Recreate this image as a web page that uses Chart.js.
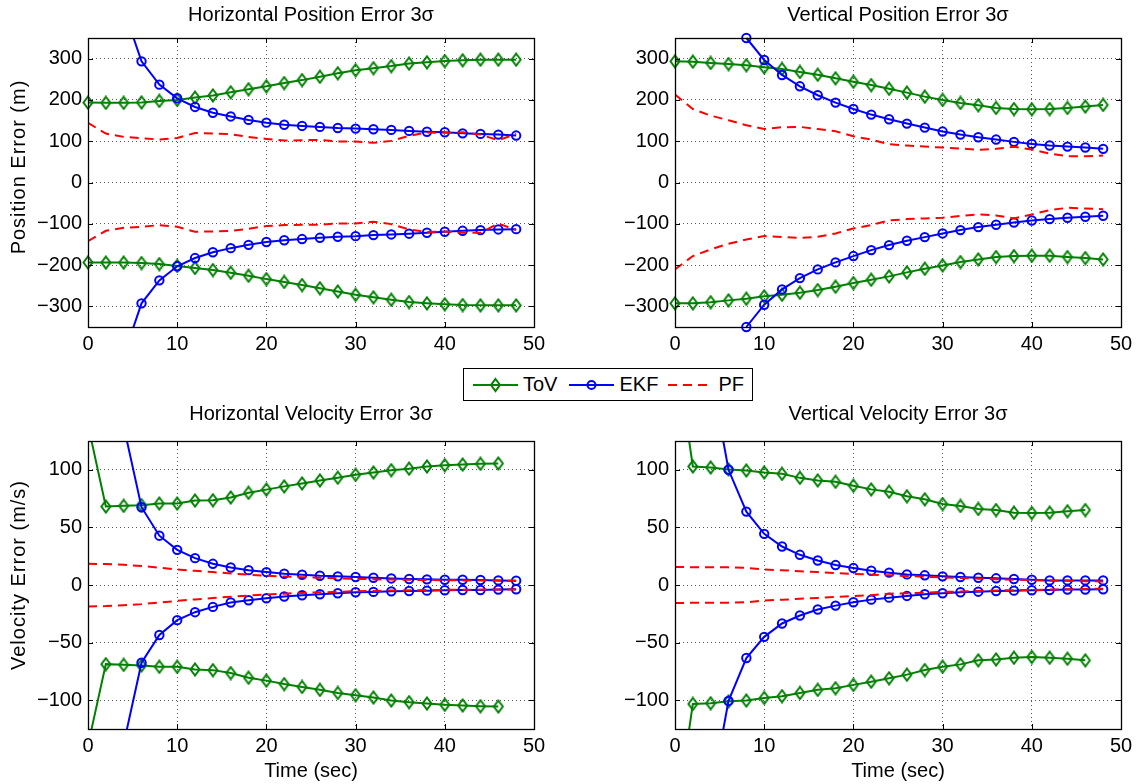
<!DOCTYPE html>
<html>
<head>
<meta charset="utf-8">
<title>Position and Velocity Error 3 sigma</title>
<script src="https://cdn.jsdelivr.net/npm/chart.js@4.4.0/dist/chart.umd.min.js"></script>
<style>
    body { margin: 0; width: 1142px; height: 784px; background: #fff; overflow: hidden; position: relative;
           font-family: "Liberation Sans", Arial, Helvetica, sans-serif; color: #000; }
    .plot { position: absolute; }
    .lbl { position: absolute; font-size: 20px; white-space: nowrap; transform: translate(-50%, -50%); }
    .ylbl { transform: translate(-50%, -50%) rotate(-90deg); letter-spacing: 1px; }
    #legend { position: absolute; left: 463px; top: 368px; width: 288px; height: 31px; border: 1px solid #000;
              display: flex; align-items: center; font-size: 20px; background: #fff; }
    #legend svg { display: block; }
    #legend .item { display: flex; align-items: center; }
    #legend .item span { margin-left: 5px; }
</style>
</head>
<body>

<div class="plot" style="left:0px; top:0px;"><canvas id="chartHPos" width="560" height="365"></canvas></div>
<div class="plot" style="left:587px; top:0px;"><canvas id="chartVPos" width="555" height="365"></canvas></div>
<div class="plot" style="left:0px; top:403px;"><canvas id="chartHVel" width="560" height="364"></canvas></div>
<div class="plot" style="left:587px; top:403px;"><canvas id="chartVVel" width="555" height="364"></canvas></div>

<div class="lbl" style="left:311px; top:14px;">Horizontal Position Error 3σ</div>
<div class="lbl" style="left:898px; top:14px;">Vertical Position Error 3σ</div>
<div class="lbl" style="left:311px; top:413px;">Horizontal Velocity Error 3σ</div>
<div class="lbl" style="left:898px; top:413px;">Vertical Velocity Error 3σ</div>
<div class="lbl ylbl" style="left:18px; top:167px;">Position Error (m)</div>
<div class="lbl ylbl" style="left:18px; top:575px;">Velocity Error (m/s)</div>
<div class="lbl" style="left:311px; top:770px;">Time (sec)</div>
<div class="lbl" style="left:898px; top:770px;">Time (sec)</div>

<div id="legend">
    <div class="item" style="margin-left:9px;">
        <svg width="45" height="16"><line x1="0" y1="8" x2="45" y2="8" stroke="#008000" stroke-width="2"/><path d="M22.5 2 L27 8 L22.5 14 L18 8 Z" fill="none" stroke="#008000" stroke-width="2"/></svg>
        <span>ToV</span>
    </div>
    <div class="item" style="margin-left:12px;">
        <svg width="45" height="16"><line x1="0" y1="8" x2="45" y2="8" stroke="#0000ff" stroke-width="2"/><circle cx="22.5" cy="8" r="4" fill="none" stroke="#0000ff" stroke-width="2"/></svg>
        <span>EKF</span>
    </div>
    <div class="item" style="margin-left:10px;">
        <svg width="45" height="16"><line x1="0" y1="8" x2="45" y2="8" stroke="#ff0000" stroke-width="2" stroke-dasharray="9,6"/></svg>
        <span>PF</span>
    </div>
</div>

<script>
/* ----------------------------------------------------------------------------
                                     DATA
---------------------------------------------------------------------------- */

// Axes -----------------------------------------------------------------------
var time = [0, 2, 4, 6, 8, 10, 12, 14, 16, 18, 20, 22, 24, 26, 28, 30, 32, 34, 36, 38, 40, 42, 44, 46, 48];
var xTicks = [0, 10, 20, 30, 40, 50];
var posTicks = [-300, -200, -100, 0, 100, 200, 300];
var velTicks = [-100, -50, 0, 50, 100];

// Horizontal position error (m) ----------------------------------------------
var tovHPosUp = [193.5, 193, 193, 194, 197.6, 200, 205.6, 211, 218.5, 226, 233, 241, 248, 256, 264.5, 272, 277, 282, 288, 291, 294, 296, 297.6, 297.6, 297.6];
var tovHPosLo = [-193.5, -194, -194, -195, -197.6, -202, -207, -212, -218.5, -226, -234, -241, -248.4, -256, -264, -272, -278.2, -284, -289.5, -292.7, -295, -296.8, -297.6, -297.6, -297.6];
var ekfHPosUp = [null, null, 420, 293.5, 237, 204, 183, 169, 160, 151.6, 145, 140, 137, 134.7, 132, 130.6, 129, 127.4, 125, 123, 121.8, 119, 117.7, 116, 113.7];
var ekfHPosLo = [null, null, -420, -292.7, -237, -203, -183, -169, -159, -151, -144, -140, -137, -134, -131.5, -130, -127.4, -125.8, -124, -121.8, -119.4, -117, -115.3, -113.7, -113];
var pfHPosUp = [144.4, 118.5, 110.5, 107.3, 104, 108, 120, 118.5, 117, 110.5, 105.6, 101.6, 102.4, 103.2, 99.2, 99.2, 96, 100.8, 113, 121, 120.2, 121.8, 116, 102.4, 117.7];
var pfHPosLo = [-142, -117, -109.7, -107.3, -103.2, -107.3, -119.4, -118.5, -117, -112, -105.6, -103.2, -102.4, -102.4, -99.2, -99.2, -95.2, -100.8, -113.7, -120, -118.5, -121.8, -121.8, -99.2, -115.3];

// Vertical position error (m) ------------------------------------------------
var tovVPosUp = [293.5, 292.7, 289.5, 287, 284, 279, 275, 267.7, 261, 252.4, 244, 236, 227, 217.7, 208, 200, 192.7, 187, 180.6, 178, 177.4, 178, 180.6, 184, 188];
var tovVPosLo = [-292.7, -292.7, -290, -285.5, -281.5, -275.8, -271.8, -267, -260.5, -252.4, -243.5, -235.5, -227.4, -217.7, -208.9, -200.8, -192.7, -186.3, -180.6, -178.2, -177.4, -177.4, -180.6, -183, -186.3];
var ekfVPosUp = [null, null, null, null, 350, 296.8, 260.5, 233, 211.3, 193.5, 178, 164.5, 153.2, 142.7, 133, 123.4, 116, 109.7, 104, 98.4, 93.5, 89.5, 87, 84.7, 81.5];
var ekfVPosLo = [null, null, null, null, -350, -296, -258.9, -231.5, -210.5, -193.5, -178.2, -163.7, -151.6, -141, -132.3, -123.4, -115.3, -108, -102.4, -96.8, -92, -88.7, -85.5, -83, -80.6];
var pfVPosUp = [213, 178, 162, 150.8, 138.7, 129.8, 133.9, 134.7, 129.8, 124.2, 112, 104, 92.7, 89.5, 87, 84.7, 82.3, 79, 81.5, 86.3, 79.8, 70, 63.7, 63.7, 65.3];
var pfVPosLo = [-210.5, -178.2, -162, -148.4, -138, -129.8, -132.3, -133.9, -131.5, -123.4, -111.3, -103.2, -92, -88.7, -87, -85.5, -80.6, -77.4, -79.8, -87, -77.4, -67, -61.3, -63, -64.5];

// Horizontal velocity error (m/s) --------------------------------------------
var tovHVelUp = [139, 68.1, 68.7, 69.3, 70.7, 70.7, 73.3, 73.6, 76, 80, 82.8, 85.6, 88.2, 90.8, 93.1, 95.7, 97.7, 99.7, 101, 102.9, 104, 104.6, 105.2, 105.5, null];
var tovHVelLo = [-139, -68.7, -69.3, -69.8, -71, -71, -73.3, -73.9, -76.4, -80.5, -83, -86, -88.5, -91, -93.7, -95.7, -97.7, -100.3, -101.7, -102.9, -104, -104.6, -105.2, -105.5, null];
var ekfHVelUp = [null, null, 138, 67.5, 42.8, 30.5, 23.3, 18.4, 15.2, 12.9, 11.2, 9.8, 8.9, 8, 7.5, 6.9, 6.3, 5.7, 5.2, 4.9, 4.6, 4.6, 4.3, 4, 3.7];
var ekfHVelLo = [null, null, -138, -67.5, -43.4, -30.5, -23.6, -19, -15.2, -13.2, -11.5, -10, -8.9, -8, -7.2, -6.3, -6, -5.5, -5.2, -4.9, -4.6, -4.3, -4.3, -4, -3.7];
var pfHVelUp = [18.4, 18.2, 17.5, 16.5, 15, 13.5, 12.3, 11.2, 10, 9, 8, 7.3, 6.8, 6.3, 5.8, 5.3, 5, 4.7, 4.5, 4.3, 4.1, 4, 3.9, 3.8, 3.7];
var pfHVelLo = [-18.6, -18.3, -17.6, -16.6, -15.2, -13.8, -12.5, -11.3, -10.2, -9.2, -8.2, -7.5, -6.9, -6.4, -5.9, -5.4, -5.1, -4.8, -4.6, -4.4, -4.2, -4.1, -4, -3.9, -3.8];

// Vertical velocity error (m/s) ----------------------------------------------
var tovVVelUp = [210, 102.9, 102, 100.3, 99.4, 97.7, 96.5, 93, 90.8, 89.6, 86.2, 83, 81, 77, 74.4, 70.3, 68.6, 66, 65.1, 62.8, 62.5, 62.8, 64, 65.1, null];
var tovVVelLo = [-210, -103.2, -102.6, -101, -100.3, -98, -96.5, -93.7, -91, -89.6, -86.7, -83.9, -81, -77.8, -73.8, -70.9, -68.9, -65.4, -64.6, -63.1, -62.5, -63.1, -64, -65.4, null];
var ekfVVelUp = [null, null, 185, 100, 63.7, 44.4, 33.4, 26.2, 21.3, 17.3, 14.7, 12.4, 10.7, 9.2, 8.4, 7.5, 6.9, 6.3, 5.8, 5.2, 4.6, 4, 4, 4, 4];
var ekfVVelLo = [null, null, -185, -100.6, -63.4, -45, -33.4, -26.5, -21.3, -17.9, -15, -12.7, -11, -9.5, -8, -7.2, -6.3, -5.8, -5.2, -4.9, -4.6, -4.3, -4, -4, -3.7];
var pfVVelUp = [15.6, 15.5, 15.4, 15.3, 14.8, 13.5, 12.8, 12, 11.2, 10.4, 9.6, 9, 8.4, 7.8, 7.2, 6.6, 6, 5.5, 5, 4.6, 4.2, 3.9, 3.6, 3.3, 3.1];
var pfVVelLo = [-15.6, -15.5, -15.4, -15.3, -15, -13.5, -12.8, -12, -11.2, -10.4, -9.5, -8.9, -7.5, -7.2, -6.6, -6, -5.6, -5.2, -4.8, -4.5, -4.3, -4, -3.7, -3.4, -3.2];

/* ----------------------------------------------------------------------------
                                    STYLE
---------------------------------------------------------------------------- */
var colors = Array('#008000', '#0000ff', '#ff0000', '#000000');
var fontFamily = '"Liberation Sans", Arial, Helvetica, sans-serif';

Chart.defaults.font.family = fontFamily;
Chart.defaults.font.size = 20;
Chart.defaults.color = colors[3];

// MATLAB style diamond marker (taller than wide, no fill)
function makeDiamond(color) {
    var c = document.createElement('canvas');
    c.width = 12;
    c.height = 15;
    var g = c.getContext('2d');
    g.strokeStyle = color;
    g.lineWidth = 2;
    g.beginPath();
    g.moveTo(6, 1.5);
    g.lineTo(10.5, 7.5);
    g.lineTo(6, 13.5);
    g.lineTo(1.5, 7.5);
    g.closePath();
    g.stroke();
    return c;
}
var diamond = makeDiamond(colors[0]);

// Box round the axes + inward tick marks
var matlabBox = {
    id: 'matlabBox',
    afterDatasetsDraw: function(chart) {
        var ctx = chart.ctx;
        var a = chart.chartArea;
        var x = chart.scales.x;
        var y = chart.scales.y;
        ctx.save();
        ctx.strokeStyle = colors[3];
        ctx.lineWidth = 1;
        ctx.beginPath();
        x.ticks.forEach(function(t) {
            var px = Math.round(x.getPixelForValue(t.value)) + 0.5;
            ctx.moveTo(px, a.bottom);
            ctx.lineTo(px, a.bottom - 5);
            ctx.moveTo(px, a.top);
            ctx.lineTo(px, a.top + 5);
        });
        y.ticks.forEach(function(t) {
            var py = Math.round(y.getPixelForValue(t.value)) + 0.5;
            ctx.moveTo(a.left, py);
            ctx.lineTo(a.left + 5, py);
            ctx.moveTo(a.right, py);
            ctx.lineTo(a.right - 5, py);
        });
        ctx.stroke();
        ctx.lineWidth = 1.3;
        ctx.strokeRect(a.left + 0.5, a.top + 0.5, a.right - a.left, a.bottom - a.top);
        ctx.restore();
    }
};

/* ----------------------------------------------------------------------------
                                    CHARTS
---------------------------------------------------------------------------- */
function points(values) {
    return time.map(function(t, i) {
        return { x: t, y: values[i] };
    });
}

function tovSet(values, clip) {
    return {
        label: 'ToV', data: points(values), order: 2, clip: clip,
        borderColor: colors[0], borderWidth: 2, pointStyle: diamond,
        pointBackgroundColor: 'transparent', pointBorderColor: colors[0], tension: 0
    };
}

function ekfSet(values, clip) {
    return {
        label: 'EKF', data: points(values), order: 1, clip: clip,
        borderColor: colors[1], borderWidth: 2, pointStyle: 'circle', pointRadius: 4.2,
        pointBorderWidth: 2, pointBackgroundColor: 'transparent', pointBorderColor: colors[1], tension: 0
    };
}

function pfSet(values) {
    return {
        label: 'PF', data: points(values), order: 0, clip: 0,
        borderColor: colors[2], borderWidth: 2, borderDash: [9, 6], pointRadius: 0, tension: 0
    };
}

function makeChart(id, datasets, yMin, yMax, yTicks, padRight, heightBelow) {
    var ctx = document.getElementById(id).getContext('2d');
    return new Chart(ctx, {
        type: 'line',
        data: { datasets: datasets },
        plugins: [matlabBox],
        options: {
            responsive: false,
            animation: false,
            spanGaps: false,
            layout: { padding: { top: 38, right: padRight, bottom: 0, left: 0 } },
            plugins: {
                legend: { display: false },
                tooltip: { enabled: false }
            },
            scales: {
                x: {
                    type: 'linear', min: 0, max: 50,
                    afterBuildTicks: function(s) { s.ticks = xTicks.map(function(v) { return { value: v }; }); },
                    afterFit: function(s) { s.height = heightBelow; },
                    ticks: { color: colors[3], padding: 5, maxRotation: 0, autoSkip: false },
                    grid: { color: '#555555', lineWidth: 1, drawTicks: false },
                    border: { display: false, dash: [1, 3] }
                },
                y: {
                    type: 'linear', min: yMin, max: yMax,
                    afterBuildTicks: function(s) { s.ticks = yTicks.map(function(v) { return { value: v }; }); },
                    afterFit: function(s) { s.width = 88; },
                    ticks: {
                        color: colors[3], padding: 6, autoSkip: false,
                        callback: function(v) { return v < 0 ? '\u2212' + Math.abs(v) : String(v); }
                    },
                    grid: { color: '#555555', lineWidth: 1, drawTicks: false },
                    border: { display: false, dash: [1, 3] }
                }
            }
        }
    });
}

const chartHPos = makeChart('chartHPos', [
    tovSet(tovHPosUp, 10), tovSet(tovHPosLo, 10),
    ekfSet(ekfHPosUp, 0), ekfSet(ekfHPosLo, 0),
    pfSet(pfHPosUp), pfSet(pfHPosLo)
], -350, 350, posTicks, 26, 38);

const chartVPos = makeChart('chartVPos', [
    tovSet(tovVPosUp, 10), tovSet(tovVPosLo, 10),
    ekfSet(ekfVPosUp, 10), ekfSet(ekfVPosLo, 10),
    pfSet(pfVPosUp), pfSet(pfVPosLo)
], -350, 350, posTicks, 21, 38);

const chartHVel = makeChart('chartHVel', [
    tovSet(tovHVelUp, 0), tovSet(tovHVelLo, 0),
    ekfSet(ekfHVelUp, 0), ekfSet(ekfHVelLo, 0),
    pfSet(pfHVelUp), pfSet(pfHVelLo)
], -125, 125, velTicks, 26, 38);

const chartVVel = makeChart('chartVVel', [
    tovSet(tovVVelUp, 0), tovSet(tovVVelLo, 0),
    ekfSet(ekfVVelUp, 0), ekfSet(ekfVVelLo, 0),
    pfSet(pfVVelUp), pfSet(pfVVelLo)
], -125, 125, velTicks, 21, 38);
</script>
</body>
</html>
